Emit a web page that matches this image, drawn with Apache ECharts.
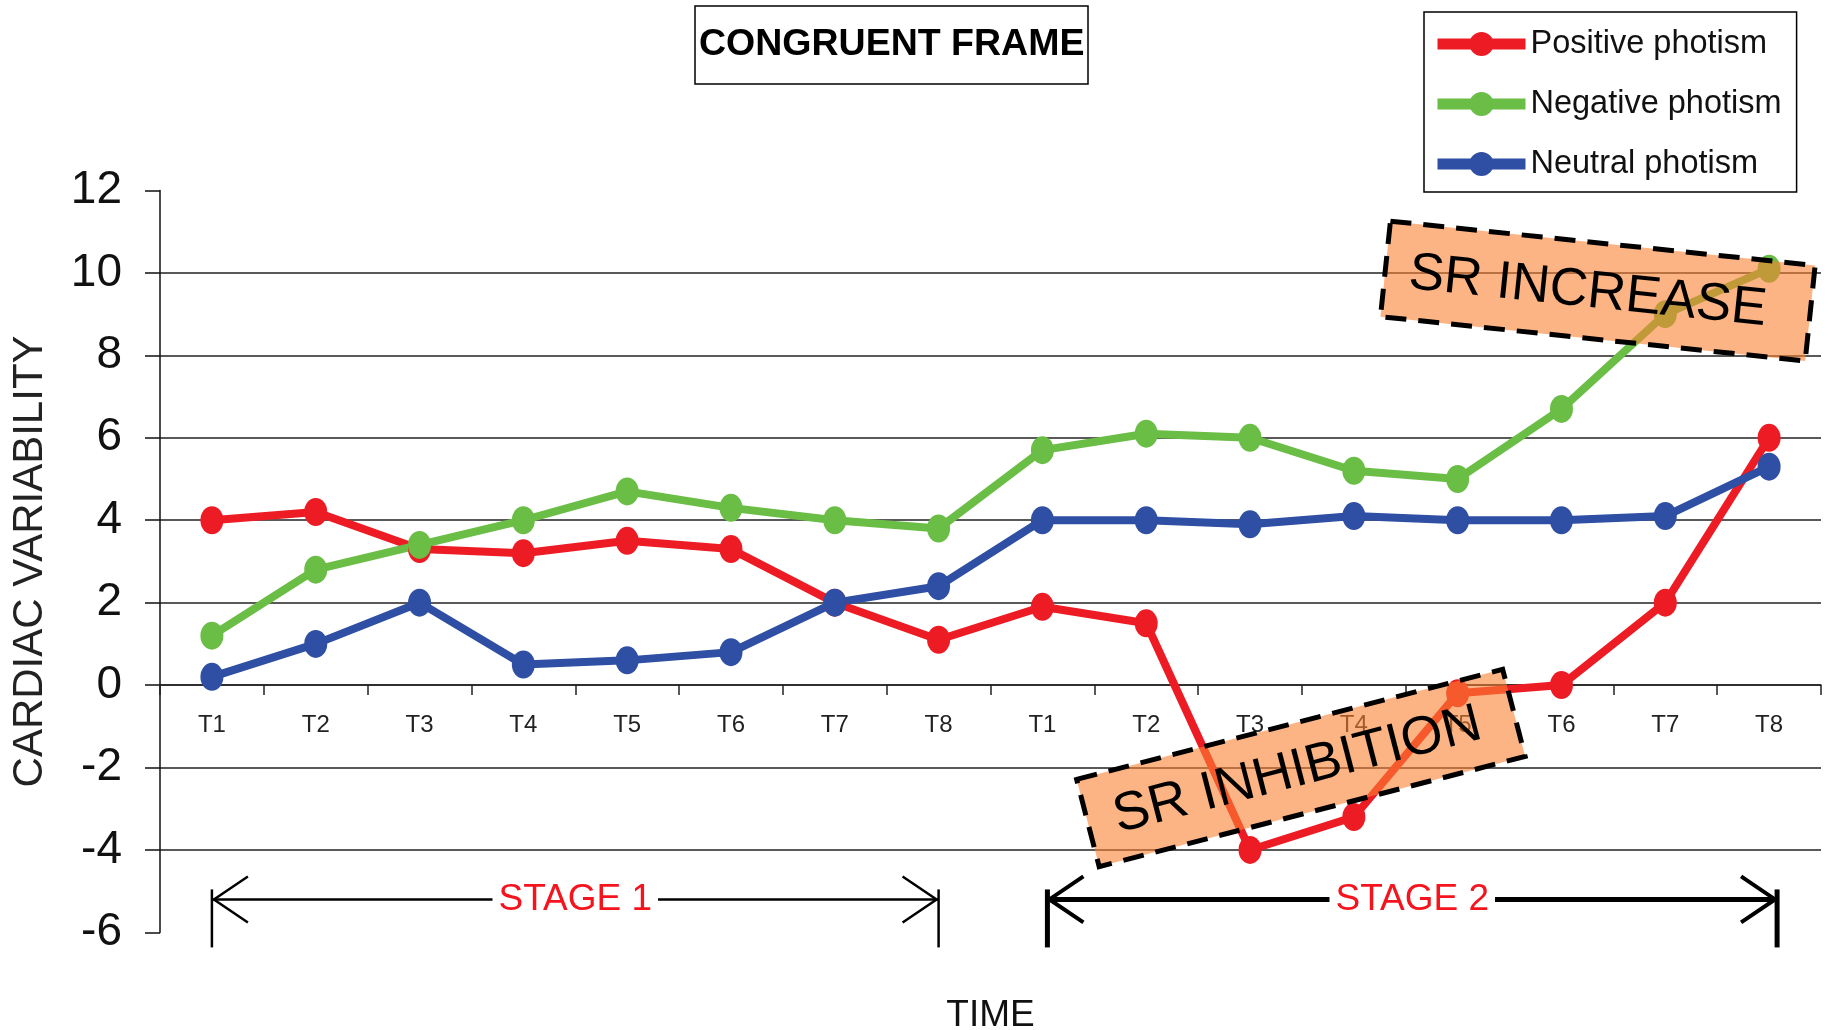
<!DOCTYPE html>
<html><head><meta charset="utf-8">
<script src="https://cdn.jsdelivr.net/npm/echarts@6/dist/echarts.min.js"></script>
<style>html,body{margin:0;padding:0;background:#fff}#main{width:1832px;height:1030px}</style>
</head><body><div id="main"></div>
<script>
// ---- data ----
const categories = ['T1','T2','T3','T4','T5','T6','T7','T8','T1','T2','T3','T4','T5','T6','T7','T8'];
const seriesNames = ['Positive photism','Negative photism','Neutral photism'];
const positive = [4.0,4.2,3.3,3.2,3.5,3.3,2.0,1.1,1.9,1.5,-4.0,-3.2,-0.2,0.0,2.0,6.0];
const negative = [1.2,2.8,3.4,4.0,4.7,4.3,4.0,3.8,5.7,6.1,6.0,5.2,5.0,6.7,9.0,10.1];
const neutral  = [0.2,1.0,2.0,0.5,0.6,0.8,2.0,2.4,4.0,4.0,3.9,4.1,4.0,4.0,4.1,5.3];
const yMin = -6, yMax = 12, yStep = 2;
const stageLabels = ['STAGE 1','STAGE 2'];
const annotationTexts = ['SR INCREASE','SR INHIBITION'];
const titleText = 'CONGRUENT FRAME';
const xName = 'TIME';
const yName = 'CARDIAC VARIABILITY';

// ---- styling / layout ----
const SANS = '"Liberation Sans", Arial, sans-serif';
const colors = ['#ED1C24','#6ABD45','#2E4FA3'];
const ellipse = 'path://M0,-1A1,1,0,1,1,0,1A1,1,0,1,1,0,-1Z';

function measure(font, text){
  const c = document.createElement('canvas').getContext('2d');
  c.font = font; return c.measureText(text).width;
}
const titleFont = 37.5;
const titleW = measure('bold ' + titleFont + 'px ' + SANS, titleText);
const titleBoxW = 393, titleBoxH = 78;

const gridTop = 190.5, gridBottom = 97.6, H = 1030;
const plotH = H - gridTop - gridBottom;
// distance from bottom of plot to value 0, from the y scale
const zeroOffset = (0 - yMin) / (yMax - yMin) * plotH;

const chart = echarts.init(document.getElementById('main'), null, {renderer:'canvas'});
const option = {
  animation:false,
  backgroundColor:'#fff',
  title:{text:titleText, left:695, top:6,
    padding:[(titleBoxH-44)/2, Math.max(4,(titleBoxW-titleW)/2)],
    borderColor:'#000', borderWidth:1.5,
    textStyle:{fontFamily:SANS, fontWeight:'bold', fontSize:titleFont, color:'#000', lineHeight:44}},
  legend:{orient:'vertical', left:1424, top:12, padding:[14,15,10,8],
    borderColor:'#000', borderWidth:1.5, itemWidth:88, itemHeight:30, itemGap:24,
    data:seriesNames,
    textStyle:{fontFamily:SANS, fontSize:32.5, color:'#111', lineHeight:36},
    lineStyle:{width:11}},
  grid:{left:160, right:11, top:gridTop, bottom:gridBottom, containLabel:false, outerBoundsMode:'none'},
  xAxis:{type:'category', data:categories, boundaryGap:true, position:'bottom', offset:-zeroOffset,
    axisLine:{onZero:false, lineStyle:{color:'#222', width:1.5}},
    axisTick:{show:true, length:10, lineStyle:{color:'#222', width:1.5}},
    axisLabel:{fontFamily:SANS, fontSize:24, color:'#222', margin:28, interval:0},
    splitLine:{show:false},
    name:xName, nameLocation:'middle', nameGap:312, nameMoveOverlap:false,
    nameTextStyle:{fontFamily:SANS, fontSize:37, color:'#111'}},
  yAxis:{type:'value', min:yMin, max:yMax, interval:yStep,
    axisLine:{show:true, lineStyle:{color:'#111', width:1.5}},
    axisTick:{show:true, length:15, lineStyle:{color:'#111', width:1.5}},
    axisLabel:{fontFamily:SANS, fontSize:46, color:'#111', margin:38},
    splitLine:{show:true, showMinLine:false, showMaxLine:false, lineStyle:{color:'#222', width:1.5}},
    name:yName, nameLocation:'middle', nameGap:109, nameRotate:90, nameMoveOverlap:false,
    nameTextStyle:{fontFamily:SANS, fontSize:42, color:'#222'}},
  series:[positive, negative, neutral].map((d,i)=>({
    name:seriesNames[i], type:'line', data:d,
    symbol:ellipse, symbolSize:[23,28], showSymbol:true,
    itemStyle:{color:colors[i]},
    lineStyle:{width:8, color:colors[i]},
    emphasis:{disabled:true}
  }))
};
chart.setOption(option);

// ---- annotations, placed through the chart's own scales ----
const px = (xi, v) => {
  const i0 = Math.floor(xi), f = xi - i0;
  const a = chart.convertToPixel({gridIndex:0}, [i0, v]);
  if (f === 0) return a;
  const b = chart.convertToPixel({gridIndex:0}, [i0 + 1, v]);
  return [a[0] + f * (b[0] - a[0]), a[1]];
};
const graphics = [];
const stageSpans = [[0,7,2.5,2.5],[8,15,5,4]];
stageSpans.forEach(([a,b,lw,hw],k)=>{
  const p0 = px(a,-5.2), p1 = px(b,-5.2);
  const off = k===1 ? 5 : 0;
  const x0 = p0[0]+off, x1 = p1[0]+off*1.6, y = p0[1];
  const s = {stroke:'#000', lineWidth:lw, fill:null};
  graphics.push({type:'line', z:50, shape:{x1:x0,y1:y,x2:x1,y2:y}, style:s});
  graphics.push({type:'line', z:50, shape:{x1:x0,y1:y-10,x2:x0,y2:y+48}, style:s});
  graphics.push({type:'line', z:50, shape:{x1:x1,y1:y-10,x2:x1,y2:y+48}, style:s});
  graphics.push({type:'polyline', z:50, shape:{points:[[x0+36,y-23],[x0+2,y],[x0+36,y+23]]}, style:{stroke:'#000', lineWidth:hw, fill:null}});
  graphics.push({type:'polyline', z:50, shape:{points:[[x1-36,y-23],[x1-2,y],[x1-36,y+23]]}, style:{stroke:'#000', lineWidth:hw, fill:null}});
  graphics.push({type:'text', z:51, x:(x0+x1)/2, y:y,
    style:{text:stageLabels[k], fill:'#f5141e', fontSize:37, fontFamily:SANS,
      align:'center', verticalAlign:'middle', backgroundColor:'#fff', padding:[2,6]}});
});
const boxes = [
  {pos:[13.35, 9.56], w:427, h:96, rot:-0.104, dx:-10, fs:53},
  {pos:[10.49,-2.01], w:440, h:90, rot:0.253, dx:-4, fs:54}
];
boxes.forEach((b,k)=>{
  const c = px(b.pos[0], b.pos[1]);
  graphics.push({type:'group', x:c[0], y:c[1], rotation:b.rot, z:60, children:[
    {type:'rect', z:60, shape:{x:-b.w/2, y:-b.h/2, width:b.w, height:b.h},
      style:{fill:'rgba(250,130,50,0.6)', stroke:'#000', lineWidth:5, lineDash:[21,12]}},
    {type:'text', z:61, x:b.dx, y:2,
      style:{text:annotationTexts[k], fill:'#000', fontSize:b.fs, fontFamily:SANS,
        align:'center', verticalAlign:'middle'}}
  ]});
});
chart.setOption({graphic:graphics});
</script>
</body></html>
